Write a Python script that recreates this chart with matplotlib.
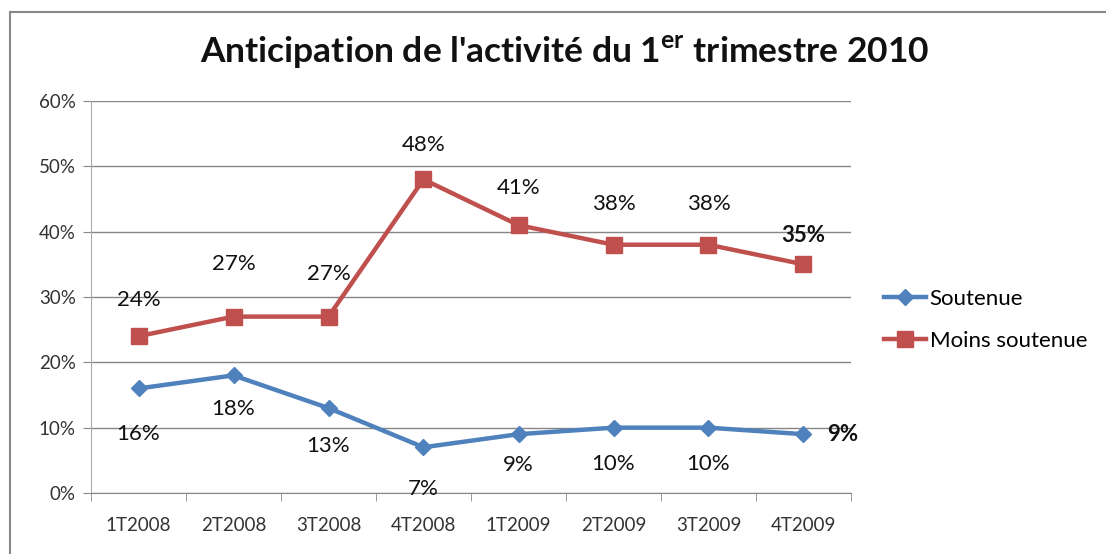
import matplotlib
matplotlib.use("Agg")
import matplotlib.pyplot as plt
from matplotlib.patches import Rectangle

categories = ["1T2008", "2T2008", "3T2008", "4T2008", "1T2009", "2T2009", "3T2009", "4T2009"]
soutenue = [16, 18, 13, 7, 9, 10, 10, 9]
moins_soutenue = [24, 27, 27, 48, 41, 38, 38, 35]
yticks = [0, 10, 20, 30, 40, 50, 60]

# label offsets in points (style/position only)
moins_offsets = [26, 38, 31, 25, 27, 29, 29, 21]
sout_offsets = [-33, -24, -27, -30, -22, -26, -26, 0]

plt.rcParams['font.family'] = ['Lato', 'DejaVu Sans']

fig = plt.figure(figsize=(11.06, 5.54), dpi=100)
ax = fig.add_axes([91/1106, 1-493/554, (851-91)/1106, (493-101)/554])

blue = "#4F81BD"
red = "#C0504D"
x = list(range(len(categories)))

ax.plot(x, soutenue, color=blue, lw=3.2, marker="D", ms=8, label="Soutenue", zorder=3)
ax.plot(x, moins_soutenue, color=red, lw=3.2, marker="s", ms=11, label="Moins soutenue", zorder=3)

ax.set_xlim(-0.5, len(categories) - 0.5)
ax.set_ylim(0, 60)
ax.set_yticks(yticks)
ax.set_yticklabels([f"{v}%" for v in yticks], fontsize=13.5, color="#333333")
ax.set_xticks(x)
ax.set_xticklabels(categories, fontsize=13.5, color="#333333")
ax.set_xticks([i - 0.5 for i in range(len(categories) + 1)], minor=True)
ax.tick_params(axis="x", which="major", length=0, pad=17)
ax.tick_params(axis="x", which="minor", length=6, color="#888888")
ax.tick_params(axis="y", length=6, color="#888888", direction="out", pad=5)
ax.yaxis.grid(True, color="#868686", lw=1)
ax.set_axisbelow(True)
for s in ["top", "right"]:
    ax.spines[s].set_visible(False)
ax.spines["left"].set_color("#AAAAAA")
ax.spines["bottom"].set_color("#888888")

n = len(categories)
for i, (v, off) in enumerate(zip(moins_soutenue, moins_offsets)):
    bold = i == n - 1
    ax.annotate(f"{v}%", (i, v), xytext=(0, off), textcoords="offset points",
                ha="center", va="center", fontsize=16,
                fontweight="bold" if bold else "normal", color="#111111")
for i, (v, off) in enumerate(zip(soutenue, sout_offsets)):
    if i == n - 1:
        ax.annotate(f"{v}%", (i, v), xytext=(28, 0), textcoords="offset points",
                    ha="center", va="center", fontsize=16, fontweight="bold", color="#111111",
                    annotation_clip=False)
    else:
        ax.annotate(f"{v}%", (i, v), xytext=(0, off), textcoords="offset points",
                    ha="center", va="center", fontsize=16, color="#111111",
                    annotation_clip=False)

leg = ax.legend(loc="center left", bbox_to_anchor=(884/1106, 1-320/554),
                bbox_transform=fig.transFigure, frameon=False, fontsize=16,
                handlelength=1.9, handletextpad=0.15, labelspacing=1.0,
                borderaxespad=0, borderpad=0)

fig.text(565/1106, 1-52/554, "Anticipation de l'activité du 1$^{\\mathregular{er}}$ trimestre 2010",
         ha="center", va="center", fontsize=25.5, fontweight="bold", color="#111111")

fig.patches.append(Rectangle((10/1106, -0.05), 1.2, 1 - 12/554 + 0.05, transform=fig.transFigure,
                             fill=False, edgecolor="#888888", lw=1.5))

fig.savefig("out.png", dpi=100)
